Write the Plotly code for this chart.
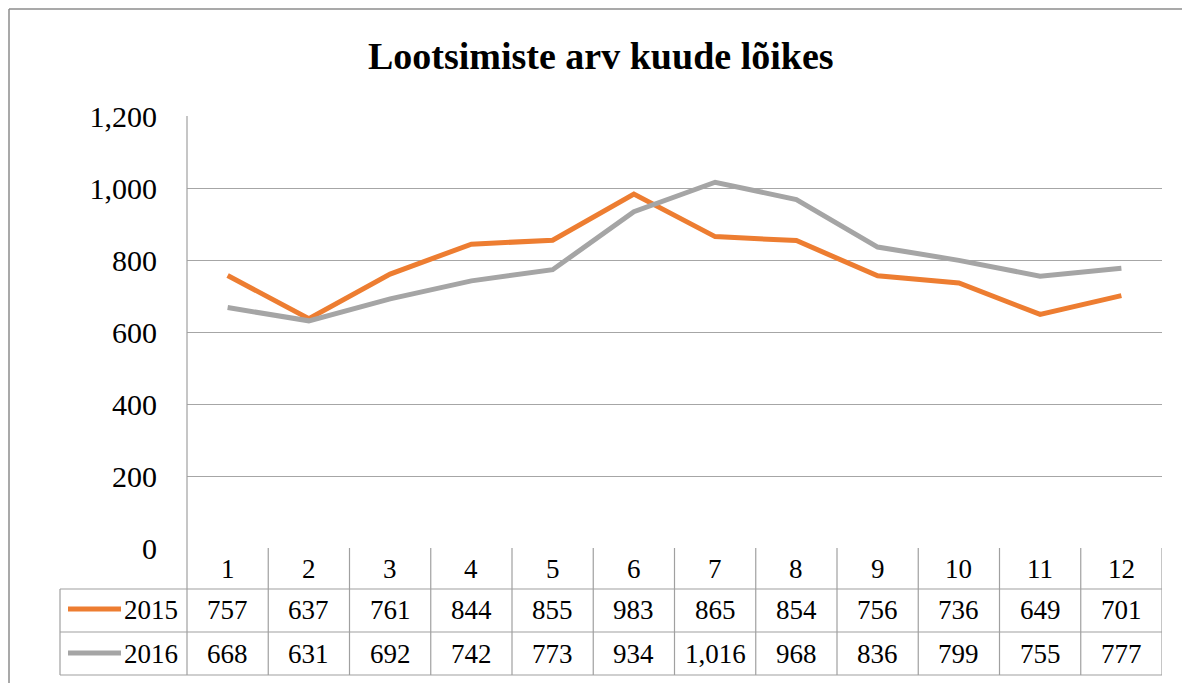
import plotly.graph_objects as go

months = [1, 2, 3, 4, 5, 6, 7, 8, 9, 10, 11, 12]
series_names = ["2015", "2016"]
v2015 = [757, 637, 761, 844, 855, 983, 865, 854, 756, 736, 649, 701]
v2016 = [668, 631, 692, 742, 773, 934, 1016, 968, 836, 799, 755, 777]
colors = ["#ED7D31", "#A5A5A5"]
title_text = "Lootsimiste arv kuude lõikes"

OFF = 8  # page body margin
W, H = 1190 - OFF, 683 - OFF
L, R, T, B = 187 - OFF, 1162 - OFF, 116 - OFF, 548 - OFF
PW, PH = R - L, B - T


def px(x):
    return (x - OFF - L) / PW


def py(y):
    return (B - (y - OFF)) / PH


FONT = "Liberation Serif"
GRID = "#A6A6A6"
TAB = "#A0A0A0"

fig = go.Figure()
for name, vals, col in zip(series_names, [v2015, v2016], colors):
    fig.add_trace(go.Scatter(x=months, y=vals, mode="lines", name=name,
                             line=dict(color=col, width=5), hoverinfo="x+y"))

shapes = []
# outer chart border (left and top edges visible)
shapes.append(dict(type="line", xref="paper", yref="paper", x0=px(OFF + 1), x1=px(1250),
                   y0=py(OFF + 1), y1=py(OFF + 1), line=dict(color="#8C8C8C", width=1.5)))
shapes.append(dict(type="line", xref="paper", yref="paper", x0=px(OFF + 1), x1=px(OFF + 1),
                   y0=py(OFF + 1), y1=py(720), line=dict(color="#8C8C8C", width=1.5)))
# table horizontal lines
for yy in [589, 632, 675]:
    shapes.append(dict(type="line", xref="paper", yref="paper", x0=px(60), x1=1,
                       y0=py(yy), y1=py(yy), line=dict(color=TAB, width=1.2)))
# left table col line
shapes.append(dict(type="line", xref="paper", yref="paper", x0=px(60), x1=px(60),
                   y0=py(589), y1=py(675), line=dict(color=TAB, width=1.2)))
# plot left edge + table divider
shapes.append(dict(type="line", xref="paper", yref="paper", x0=0, x1=0,
                   y0=1, y1=py(675), line=dict(color=TAB, width=1.2)))
# column dividers
for m in months:
    shapes.append(dict(type="line", xref="x", yref="paper", x0=m + 0.5, x1=m + 0.5,
                       y0=0, y1=py(675), line=dict(color=TAB, width=1.2)))

annotations = []
row_y = [610, 654]
cell_font = dict(family=FONT, size=27, color="#000")
for m in months:
    annotations.append(dict(x=m, y=py(569), xref="x", yref="paper", text=str(m),
                            xanchor="center", yanchor="middle",
                            showarrow=False, font=cell_font))
for vals, ry in zip([v2015, v2016], row_y):
    for m, v in zip(months, vals):
        annotations.append(dict(x=m, y=py(ry), xref="x", yref="paper", text=f"{v:,}",
                                xanchor="center", yanchor="middle",
                                showarrow=False, font=cell_font))
for name, col, ry in zip(series_names, colors, row_y):
    shapes.append(dict(type="line", xref="paper", yref="paper", x0=px(68), x1=px(121),
                       y0=py(ry - 1), y1=py(ry - 1), line=dict(color=col, width=5)))
    annotations.append(dict(x=px(180), y=py(ry), xref="paper", yref="paper", text=name,
                            xanchor="right", yanchor="middle", showarrow=False,
                            font=cell_font))
annotations.append(dict(x=px(601), y=py(56), xref="paper", yref="paper", text=f"<b>{title_text}</b>",
                        xanchor="center", yanchor="middle",
                        showarrow=False, font=dict(family=FONT, size=38, color="#000")))

fig.update_layout(
    width=W, height=H,
    margin=dict(l=L, r=W - R, t=T, b=H - B, pad=0),
    paper_bgcolor="white", plot_bgcolor="white",
    showlegend=False,
    shapes=shapes, annotations=annotations,
    xaxis=dict(range=[0.5, 12.5], showgrid=False, showticklabels=False, zeroline=False,
               showline=False, ticks=""),
    yaxis=dict(range=[0, 1200], tickvals=[0, 200, 400, 600, 800, 1000, 1200], tickformat=",d",
               showgrid=True, gridcolor=GRID, gridwidth=1, zeroline=False, showline=False,
               ticks="", ticklabelstandoff=29,
               tickfont=dict(family=FONT, size=30, color="#000")),
)

fig.write_html("out.html")
